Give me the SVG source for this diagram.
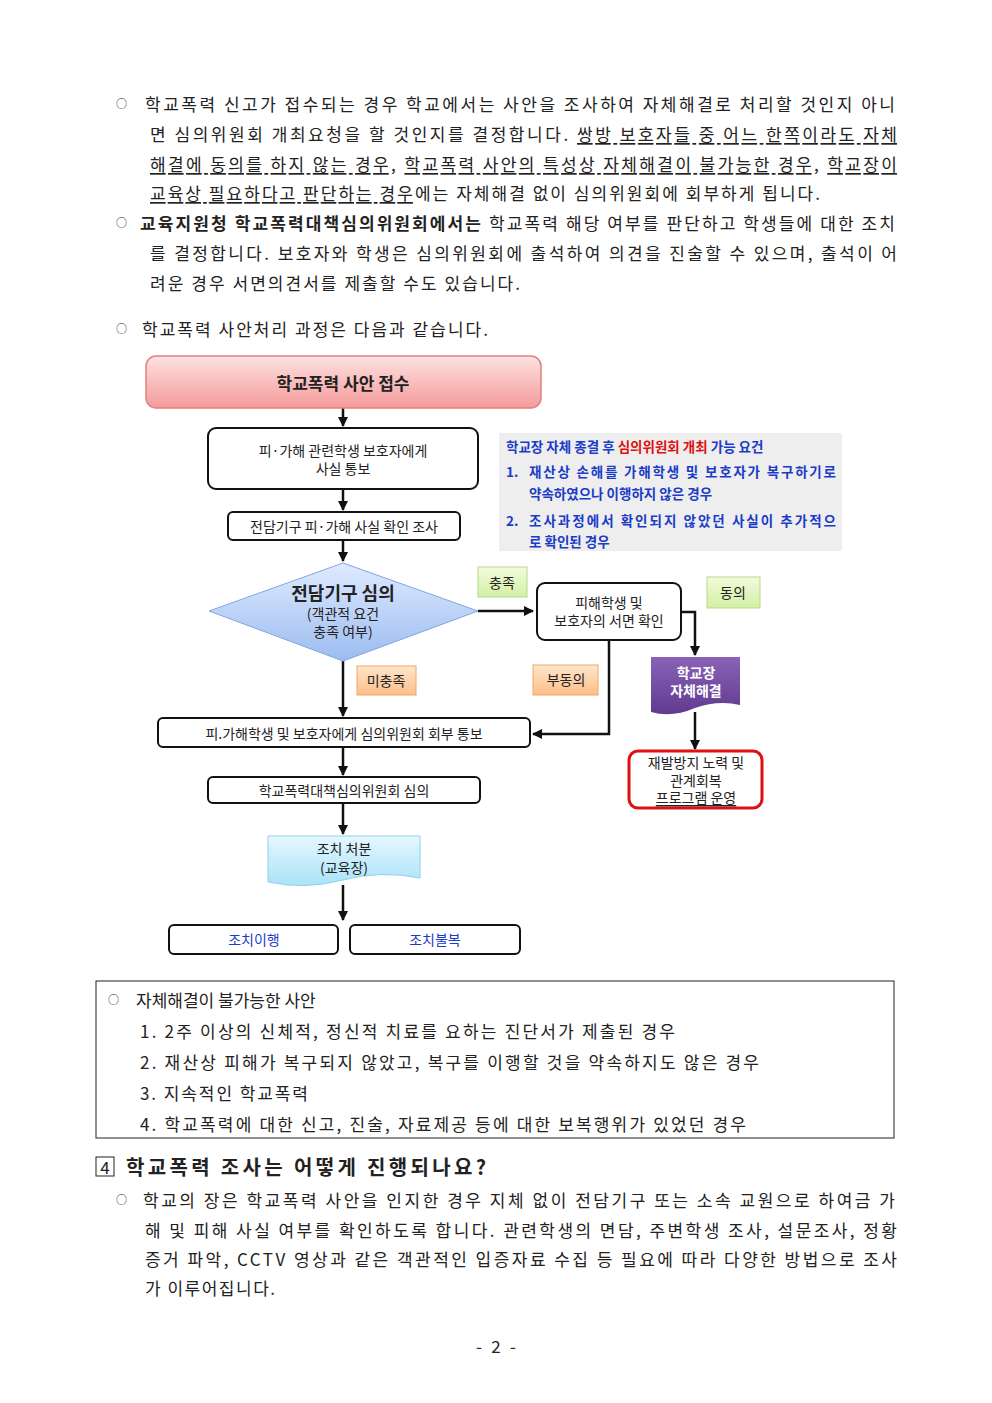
<svg xmlns="http://www.w3.org/2000/svg" width="992" height="1403" viewBox="0 0 992 1403">
<defs>
<style>
text{font-family:"Noto Sans CJK KR","Noto Sans",sans-serif;dominant-baseline:central;fill:#222}
.b{font-size:17px}
.o{font-size:11px}
.f{font-size:14px}
.c{text-anchor:middle}
.box{fill:#fff;stroke:#111;stroke-width:2}
.ln{fill:none;stroke:#111;stroke-width:2.5}
.u{text-decoration:underline}
</style>
<linearGradient id="pk" x1="0" y1="0" x2="0" y2="1"><stop offset="0" stop-color="#fde2e2"/><stop offset="1" stop-color="#f59a9a"/></linearGradient>
<linearGradient id="bl" x1="0" y1="0" x2="0" y2="1"><stop offset="0" stop-color="#dfeaff"/><stop offset="1" stop-color="#9cbcf0"/></linearGradient>
<linearGradient id="gr" x1="0" y1="0" x2="0" y2="1"><stop offset="0" stop-color="#f2fbdc"/><stop offset="1" stop-color="#d3efa5"/></linearGradient>
<linearGradient id="or" x1="0" y1="0" x2="0" y2="1"><stop offset="0" stop-color="#ffe6cc"/><stop offset="1" stop-color="#fbbf88"/></linearGradient>
<linearGradient id="cy" x1="0" y1="0" x2="0" y2="1"><stop offset="0" stop-color="#e6f7ff"/><stop offset="1" stop-color="#a9e3f8"/></linearGradient>
<linearGradient id="pu" x1="0" y1="0" x2="0" y2="1"><stop offset="0" stop-color="#8a63b8"/><stop offset="1" stop-color="#5f3a8f"/></linearGradient>
<marker id="ar" viewBox="0 0 10 10" refX="9" refY="5" markerWidth="4" markerHeight="4" orient="auto"><path d="M0,0L10,5L0,10z" fill="#111"/></marker>
</defs>
<g id="body-top">
<text class="o" x="116" y="103">○</text>
<text class="b" x="145" y="103" textLength="750" lengthAdjust="spacing">학교폭력 신고가 접수되는 경우 학교에서는 사안을 조사하여 자체해결로 처리할 것인지 아니</text>
<text class="b" x="150" y="133" textLength="747" lengthAdjust="spacing">면 심의위원회 개최요청을 할 것인지를 결정합니다. <tspan class="u">쌍방 보호자들 중 어느 한쪽이라도 자체</tspan></text>
<text class="b" x="150" y="163" textLength="747" lengthAdjust="spacing"><tspan class="u">해결에 동의를 하지 않는 경우</tspan>, <tspan class="u">학교폭력 사안의 특성상 자체해결이 불가능한 경우</tspan>, <tspan class="u">학교장이</tspan></text>
<text class="b" x="150" y="192" textLength="670" lengthAdjust="spacing"><tspan class="u">교육상 필요하다고 판단하는 경우</tspan>에는 자체해결 없이 심의위원회에 회부하게 됩니다.</text>
<text class="o" x="116" y="222">○</text>
<text class="b" x="140" y="222" textLength="755" lengthAdjust="spacing"><tspan font-weight="bold">교육지원청 학교폭력대책심의위원회에서는</tspan> 학교폭력 해당 여부를 판단하고 학생들에 대한 조치</text>
<text class="b" x="150" y="252" textLength="747" lengthAdjust="spacing">를 결정합니다. 보호자와 학생은 심의위원회에 출석하여 의견을 진술할 수 있으며, 출석이 어</text>
<text class="b" x="150" y="282" textLength="370" lengthAdjust="spacing">려운 경우 서면의견서를 제출할 수도 있습니다.</text>
<text class="o" x="116" y="328">○</text>
<text class="b" x="142" y="328" textLength="346" lengthAdjust="spacing">학교폭력 사안처리 과정은 다음과 같습니다.</text>
</g>
<g id="connectors">
<path class="ln" d="M343,408V426" marker-end="url(#ar)"/>
<path class="ln" d="M343,489V510" marker-end="url(#ar)"/>
<path class="ln" d="M343,540V561" marker-end="url(#ar)"/>
<path class="ln" d="M478,611H533" marker-end="url(#ar)"/>
<path class="ln" d="M681,612H695V655" marker-end="url(#ar)"/>
<path class="ln" d="M609,640V734H533" marker-end="url(#ar)"/>
<path class="ln" d="M343,661V716" marker-end="url(#ar)"/>
<path class="ln" d="M343,747V775" marker-end="url(#ar)"/>
<path class="ln" d="M343,803V834" marker-end="url(#ar)"/>
<path class="ln" d="M343,885V920" marker-end="url(#ar)"/>
<path class="ln" d="M695,712V749" marker-end="url(#ar)"/>
</g>
<g id="n-receive"><rect x="146" y="356" width="395" height="52" rx="10" fill="url(#pk)" stroke="#e08080" stroke-width="1.5"/><text class="c" x="343" y="382" font-size="17" font-weight="bold">학교폭력 사안 접수</text></g>
<g id="n-notify"><rect class="box" x="208" y="428" width="270" height="61" rx="8"/><text class="c f" x="343" y="450">피·가해 관련학생 보호자에게</text><text class="c f" x="343" y="468">사실 통보</text></g>
<g id="n-check"><rect class="box" x="228" y="512" width="232" height="28" rx="5"/><text class="c f" x="344" y="526">전담기구 피·가해 사실 확인 조사</text></g>
<g id="n-review"><path d="M343,563L478,611L343,661L209,611z" fill="url(#bl)" stroke="#7fa6e0" stroke-width="1"/><text class="c" x="343" y="592" font-size="18" font-weight="bold">전담기구 심의</text><text class="c f" x="343" y="613">(객관적 요건</text><text class="c f" x="343" y="631">충족 여부)</text></g>
<g id="n-written"><rect class="box" x="537" y="583" width="144" height="57" rx="8"/><text class="c f" x="609" y="602">피해학생 및</text><text class="c f" x="609" y="620">보호자의 서면 확인</text></g>
<g id="l-met"><rect x="478" y="567" width="49" height="30" fill="url(#gr)" stroke="#b7d98a"/><text class="c f" x="502" y="582">충족</text></g>
<g id="l-agree"><rect x="707" y="577" width="53" height="31" fill="url(#gr)" stroke="#b7d98a"/><text class="c f" x="733" y="592">동의</text></g>
<g id="l-unmet"><rect x="357" y="666" width="59" height="29" fill="url(#or)" stroke="#f0a868"/><text class="c f" x="386" y="680">미충족</text></g>
<g id="l-disagree"><rect x="533" y="665" width="65" height="30" fill="url(#or)" stroke="#f0a868"/><text class="c f" x="566" y="679">부동의</text></g>
<g id="n-refer"><rect class="box" x="158" y="718" width="372" height="29" rx="5"/><text class="c f" x="344" y="733">피.가해학생 및 보호자에게 심의위원회 회부 통보</text></g>
<g id="n-committee"><rect class="box" x="208" y="777" width="272" height="26" rx="5"/><text class="c f" x="344" y="790">학교폭력대책심의위원회 심의</text></g>
<g id="n-measure"><path d="M268,836H420V878Q380,870 343,880Q305,890 268,882z" fill="url(#cy)" stroke="#8fd0ea"/><text class="c f" x="344" y="848">조치 처분</text><text class="c f" x="344" y="867">(교육장)</text></g>
<g id="n-comply"><rect class="box" x="169" y="925" width="169" height="29" rx="5"/><text class="c f" x="254" y="939" style="fill:#1a3cc8">조치이행</text></g>
<g id="n-appeal"><rect class="box" x="350" y="925" width="170" height="29" rx="5"/><text class="c f" x="435" y="939" style="fill:#1a3cc8">조치불복</text></g>
<g id="n-self"><path d="M651,657H740V705Q718,700 695,708Q672,718 651,712z" fill="url(#pu)"/><text class="c" x="696" y="672" font-size="14" font-weight="bold" style="fill:#fff">학교장</text><text class="c" x="696" y="690" font-size="14" font-weight="bold" style="fill:#fff">자체해결</text></g>
<g id="n-program"><rect x="629" y="751" width="133" height="57" rx="9" fill="#fff" stroke="#e01010" stroke-width="3"/><text class="c f" x="696" y="762">재발방지 노력 및</text><text class="c f" x="696" y="780">관계회복</text><text class="c f u" x="696" y="797">프로그램 운영</text></g>
<g id="n-note"><rect x="499" y="433" width="343" height="118" fill="#eeeeee"/>
<text x="506" y="446" font-size="13.5" font-weight="bold" style="fill:#1a3cc8">학교장 자체 종결 후 <tspan style="fill:#e01010">심의위원회 개최</tspan> 가능 요건</text>
<text x="506" y="471" font-size="13.5" font-weight="bold" style="fill:#1a3cc8">1.</text><text x="529" y="471" font-size="13.5" font-weight="bold" style="fill:#1a3cc8" textLength="307" lengthAdjust="spacing">재산상 손해를 가해학생 및 보호자가 복구하기로</text>
<text x="529" y="493" font-size="13.5" font-weight="bold" style="fill:#1a3cc8">약속하였으나 이행하지 않은 경우</text>
<text x="506" y="520" font-size="13.5" font-weight="bold" style="fill:#1a3cc8">2.</text><text x="529" y="520" font-size="13.5" font-weight="bold" style="fill:#1a3cc8" textLength="307" lengthAdjust="spacing">조사과정에서 확인되지 않았던 사실이 추가적으</text>
<text x="529" y="541" font-size="13.5" font-weight="bold" style="fill:#1a3cc8">로 확인된 경우</text></g>
<g id="box-cases"><rect x="96" y="981" width="798" height="157" fill="none" stroke="#222" stroke-width="1"/>
<text class="o" x="108" y="999">○</text><text class="b" x="136" y="999">자체해결이 불가능한 사안</text>
<text class="b" x="140" y="1030" textLength="535" lengthAdjust="spacing">1. 2주 이상의 신체적, 정신적 치료를 요하는 진단서가 제출된 경우</text>
<text class="b" x="140" y="1061" textLength="619" lengthAdjust="spacing">2. 재산상 피해가 복구되지 않았고, 복구를 이행할 것을 약속하지도 않은 경우</text>
<text class="b" x="140" y="1092" textLength="168" lengthAdjust="spacing">3. 지속적인 학교폭력</text>
<text class="b" x="140" y="1123" textLength="606" lengthAdjust="spacing">4. 학교폭력에 대한 신고, 진술, 자료제공 등에 대한 보복행위가 있었던 경우</text></g>
<g id="body-bottom">
<rect x="96" y="1157" width="18" height="19" fill="none" stroke="#222" stroke-width="1"/>
<text x="105" y="1166" class="c" font-size="17">4</text>
<text x="126" y="1166" font-size="20" font-weight="bold" textLength="360" lengthAdjust="spacing">학교폭력 조사는 어떻게 진행되나요?</text>
<text class="o" x="116" y="1199">○</text>
<text class="b" x="143" y="1199" textLength="752" lengthAdjust="spacing">학교의 장은 학교폭력 사안을 인지한 경우 지체 없이 전담기구 또는 소속 교원으로 하여금 가</text>
<text class="b" x="145" y="1229" textLength="752" lengthAdjust="spacing">해 및 피해 사실 여부를 확인하도록 합니다. 관련학생의 면담, 주변학생 조사, 설문조사, 정황</text>
<text class="b" x="145" y="1258" textLength="752" lengthAdjust="spacing">증거 파악, CCTV 영상과 같은 객관적인 입증자료 수집 등 필요에 따라 다양한 방법으로 조사</text>
<text class="b" x="145" y="1287" textLength="130" lengthAdjust="spacing">가 이루어집니다.</text>
<text class="b" x="476" y="1345" textLength="40" lengthAdjust="spacing">- 2 -</text>
</g>
</svg>
